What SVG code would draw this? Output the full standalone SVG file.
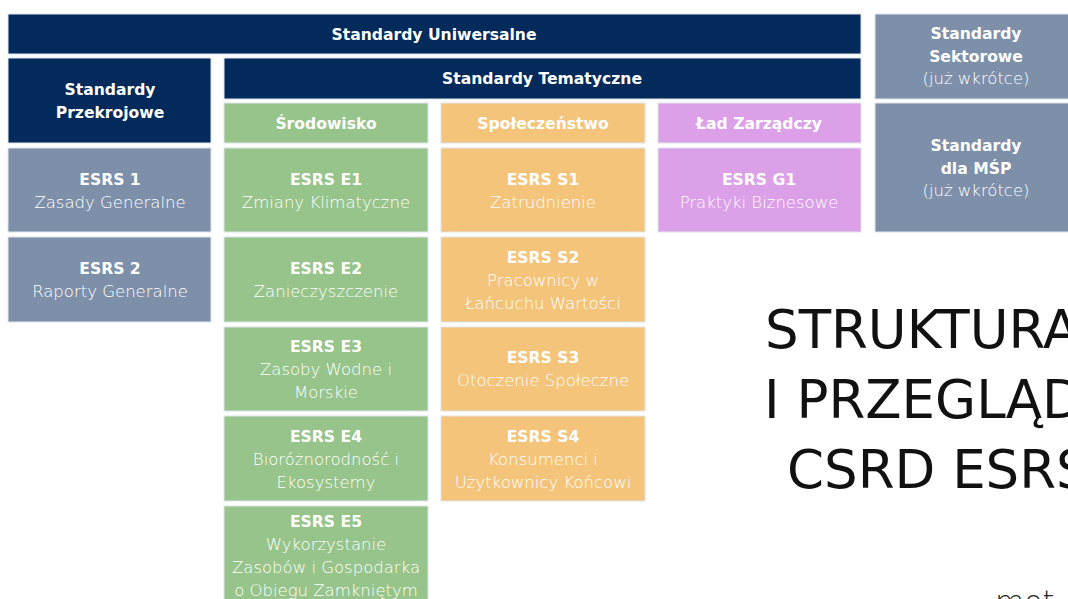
<svg xmlns="http://www.w3.org/2000/svg" width="1068" height="599" viewBox="0 0 1068 599">
<style>
.box{stroke:#dfe4ea;stroke-width:1}
.navy{fill:#022a5b}
.slate{fill:#7d8fa9}
.green{fill:#97c48a}
.orange{fill:#f4c47b}
.purple{fill:#dba0e8}
text{font-family:"DejaVu Sans","Liberation Sans",sans-serif;fill:#ffffff;text-anchor:middle}
.h{font-weight:bold;font-size:15.6px}
.r{font-weight:300;font-size:16.5px}
.title{font-weight:normal;font-size:53px;fill:#111111;text-anchor:start}
.logo{font-weight:300;font-size:30px;fill:#222222;text-anchor:start}
</style>
<rect width="1068" height="599" fill="#ffffff"/>
<g id="connectors"></g>
<g id="universal"><rect class="box navy" x="8" y="14" width="853" height="40"/><text class="h" x="434" y="40">Standardy Uniwersalne</text></g>
<g id="przekrojowe"><rect class="box navy" x="8" y="58" width="203" height="85"/><text class="h" x="110" y="95">Standardy</text><text class="h" x="110" y="118">Przekrojowe</text></g>
<g id="tematyczne"><rect class="box navy" x="224" y="58" width="637" height="41"/><text class="h" x="542" y="84">Standardy Tematyczne</text></g>
<g id="srodowisko"><rect class="box green" x="224" y="103" width="204" height="40"/><text class="h" x="326" y="129">Środowisko</text></g>
<g id="spoleczenstwo"><rect class="box orange" x="441" y="103" width="204" height="40"/><text class="h" x="543" y="129">Społeczeństwo</text></g>
<g id="lad"><rect class="box purple" x="658" y="103" width="203" height="40"/><text class="h" x="759" y="129">Ład Zarządczy</text></g>
<g id="esrs1"><rect class="box slate" x="8" y="148" width="203" height="84"/><text class="h" x="110" y="185">ESRS 1</text><text class="r" x="110" y="208">Zasady Generalne</text></g>
<g id="esrs2"><rect class="box slate" x="8" y="237" width="203" height="85"/><text class="h" x="110" y="274">ESRS 2</text><text class="r" x="110" y="297">Raporty Generalne</text></g>
<g id="e1"><rect class="box green" x="224" y="148" width="204" height="84"/><text class="h" x="326" y="185">ESRS E1</text><text class="r" x="326" y="208">Zmiany Klimatyczne</text></g>
<g id="e2"><rect class="box green" x="224" y="237" width="204" height="85"/><text class="h" x="326" y="274">ESRS E2</text><text class="r" x="326" y="297">Zanieczyszczenie</text></g>
<g id="e3"><rect class="box green" x="224" y="327" width="204" height="84"/><text class="h" x="326" y="352">ESRS E3</text><text class="r" x="326" y="375">Zasoby Wodne i</text><text class="r" x="326" y="398">Morskie</text></g>
<g id="e4"><rect class="box green" x="224" y="416" width="204" height="85"/><text class="h" x="326" y="442">ESRS E4</text><text class="r" x="326" y="465">Bioróżnorodność i</text><text class="r" x="326" y="488">Ekosystemy</text></g>
<g id="e5"><rect class="box green" x="224" y="506" width="204" height="100"/><text class="h" x="326" y="527">ESRS E5</text><text class="r" x="326" y="550">Wykorzystanie</text><text class="r" x="326" y="573">Zasobów i Gospodarka</text><text class="r" x="326" y="596">o Obiegu Zamkniętym</text></g>
<g id="s1"><rect class="box orange" x="441" y="148" width="204" height="84"/><text class="h" x="543" y="185">ESRS S1</text><text class="r" x="543" y="208">Zatrudnienie</text></g>
<g id="s2"><rect class="box orange" x="441" y="237" width="204" height="85"/><text class="h" x="543" y="263">ESRS S2</text><text class="r" x="543" y="286">Pracownicy w</text><text class="r" x="543" y="309">Łańcuchu Wartości</text></g>
<g id="s3"><rect class="box orange" x="441" y="327" width="204" height="84"/><text class="h" x="543" y="363">ESRS S3</text><text class="r" x="543" y="386">Otoczenie Społeczne</text></g>
<g id="s4"><rect class="box orange" x="441" y="416" width="204" height="85"/><text class="h" x="543" y="442">ESRS S4</text><text class="r" x="543" y="465">Konsumenci i</text><text class="r" x="543" y="488">Użytkownicy Końcowi</text></g>
<g id="g1"><rect class="box purple" x="658" y="148" width="203" height="84"/><text class="h" x="759" y="185">ESRS G1</text><text class="r" x="759" y="208">Praktyki Biznesowe</text></g>
<g id="sektorowe"><rect class="box slate" x="875" y="14" width="205" height="85"/><text class="h" x="976" y="39">Standardy</text><text class="h" x="976" y="62">Sektorowe</text><text class="r" x="976" y="84">(już wkrótce)</text></g>
<g id="msp"><rect class="box slate" x="875" y="103" width="205" height="129"/><text class="h" x="976" y="151">Standardy</text><text class="h" x="976" y="174">dla MŚP</text><text class="r" x="976" y="196">(już wkrótce)</text></g>
<g id="title"><text class="title" x="765" y="348">STRUKTURA</text><text class="title" x="764" y="418">I PRZEGLĄD</text><text class="title" x="787" y="488">CSRD ESRS</text></g>
<g id="logo"><text class="logo" x="995" y="612">mot</text></g>
</svg>
